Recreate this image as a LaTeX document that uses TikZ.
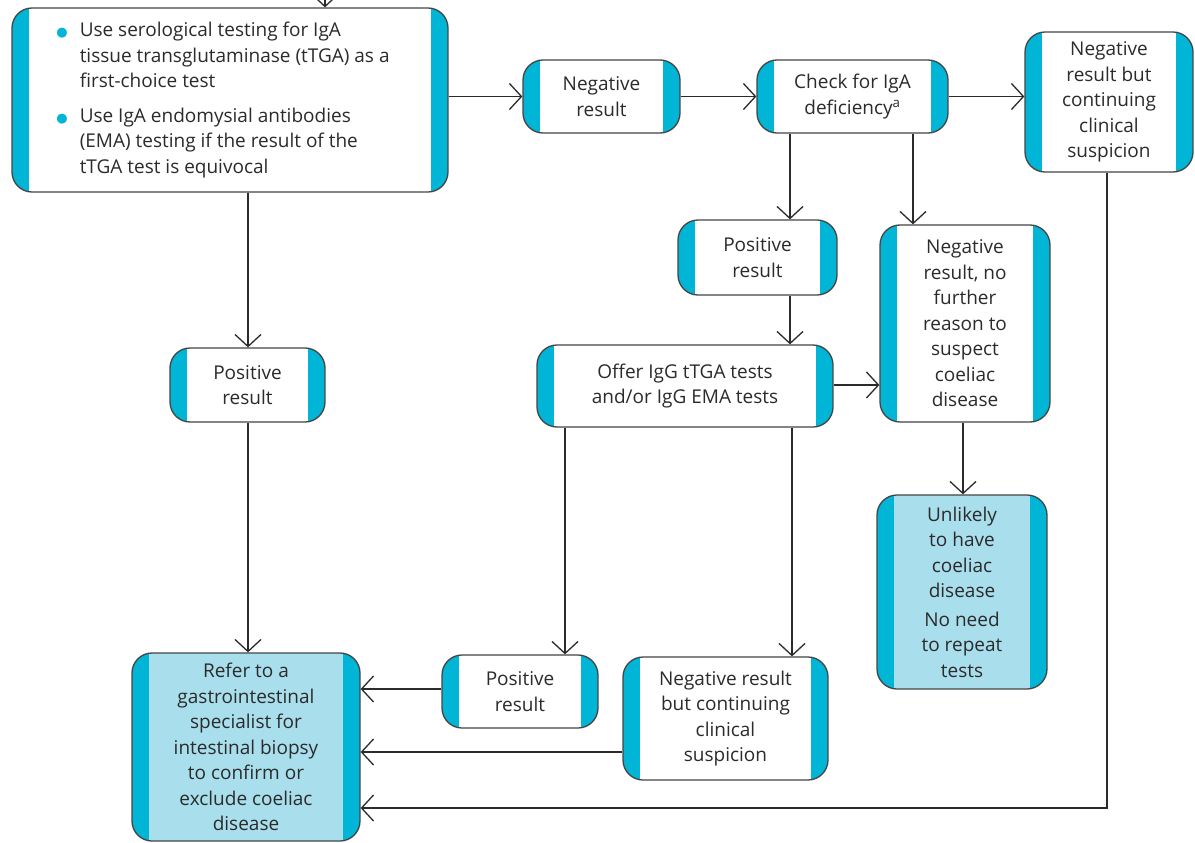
\documentclass[tikz,border=0pt]{standalone}
\usepackage{fontspec}
\setmainfont{Open Sans}
\newfontfamily\symfont{DejaVu Sans}
\usetikzlibrary{arrows.meta,calc}
\definecolor{barcyan}{HTML}{00B5D6}
\definecolor{lightfill}{HTML}{A9DEED}
\definecolor{bordergray}{HTML}{454545}
\definecolor{txtgray}{HTML}{2B2B2B}
\newcommand{\cbul}{{\symfont\fontsize{13}{13}\selectfont\color{barcyan}●}}
\begin{document}
\begin{tikzpicture}[x=1pt,y=-1pt,
  box/.style={draw=bordergray, line width=1.3pt, rounded corners=20pt, fill=white,
    inner sep=0pt, align=center, text=txtgray, font=\fontsize{19}{25.5}\selectfont,
    path picture={
      \fill[barcyan, sharp corners] (path picture bounding box.south west) rectangle ([xshift=17pt]path picture bounding box.north west);
      \fill[barcyan, sharp corners] ([xshift=-17pt]path picture bounding box.south east) rectangle (path picture bounding box.north east);}},
  lbox/.style={box, fill=lightfill},
  arr/.style={draw=txtgray, line width=1.3pt, -{Straight Barb[length=12pt,width=26pt]}},
]
\useasboundingbox (0,0) rectangle (1195,843);
\fill[white] (0,0) rectangle (1195,843);

% boxes
\node[box, minimum width=436pt, minimum height=184pt] (A) at (230,100)
  {\begin{tabular}{@{}c@{\hspace{12pt}}l@{}}
   \cbul & Use serological testing for IgA\\
         & tissue transglutaminase (tTGA) as a\\
         & first-choice test\\[9pt]
   \cbul & Use IgA endomysial antibodies\\
         & (EMA) testing if the result of the\\
         & tTGA test is equivocal
   \end{tabular}\hspace{14pt}};
\node[box, minimum width=157pt, minimum height=73pt] (B) at (601.5,96.5) {Negative\\result};
\node[box, minimum width=191pt, minimum height=73pt] (C) at (852.5,96.5) {Check for IgA\\deficiency\textsuperscript{a}};
\node[box, minimum width=168pt, minimum height=140pt] (D) at (1109,102) {Negative\\result but\\continuing\\clinical\\suspicion};
\node[box, minimum width=159pt, minimum height=75pt] (E) at (757.5,257.5) {Positive\\result};
\node[box, minimum width=170pt, minimum height=197pt] (F) at (965,323.5) {Negative\\result, no\\further\\reason to\\suspect\\coeliac\\disease};
\node[box, minimum width=296pt, minimum height=82pt] (G) at (685,386) {Offer IgG tTGA tests\\and/or IgG EMA tests};
\node[box, minimum width=155pt, minimum height=74pt] (H) at (247.5,385) {Positive\\result};
\node[lbox, minimum width=170pt, minimum height=194pt] (I) at (962,592) {Unlikely\\to have\\coeliac\\disease\\[3pt]No need\\to repeat\\tests};
\node[lbox, minimum width=228pt, minimum height=188pt] (J) at (246,747) {Refer to a\\gastrointestinal\\specialist for\\intestinal biopsy\\to confirm or\\exclude coeliac\\disease};
\node[box, minimum width=156pt, minimum height=73pt] (K) at (520,691.5) {Positive\\result};
\node[box, minimum width=205pt, minimum height=123pt] (L) at (725.5,718.5) {Negative result\\but continuing\\clinical\\suspicion};

% helper coordinates
\coordinate (topin) at (325,-6);
\coordinate (c248) at (248,0);
\coordinate (c565) at (565,0);
\coordinate (c790) at (790,0);
\coordinate (c792) at (792,0);
\coordinate (c913) at (913,0);
\coordinate (c963) at (963,0);
\coordinate (c1107) at (1107,0);
\coordinate (r385) at (0,385);
\coordinate (r689) at (0,689);
\coordinate (r752) at (0,752);
\coordinate (r808) at (0,808);

% connectors
\draw[arr] (topin) -- (A.north -| topin);
\draw[arr] (A.east |- B.west) -- (B.west);
\draw[arr] (B.east) -- (C.west);
\draw[arr] (C.east) -- (D.west |- C.east);
\draw[arr] (C.south -| c790) -- (E.north -| c790);
\draw[arr] (C.south -| c913) -- (F.north -| c913);
\draw[arr] (E.south -| c790) -- (G.north -| c790);
\draw[arr] (G.east |- r385) -- (F.west |- r385);
\draw[arr] (F.south -| c963) -- (I.north -| c963);
\draw[arr] (A.south -| c248) -- (H.north -| c248);
\draw[arr] (H.south -| c248) -- (J.north -| c248);
\draw[arr] (G.south -| c565) -- (K.north -| c565);
\draw[arr] (G.south -| c792) -- (L.north -| c792);
\draw[arr] (K.west |- r689) -- (J.east |- r689);
\draw[arr] (L.west |- r752) -- (J.east |- r752);
\draw[arr] (D.south -| c1107) |- (J.east |- r808);
\end{tikzpicture}
\end{document}
